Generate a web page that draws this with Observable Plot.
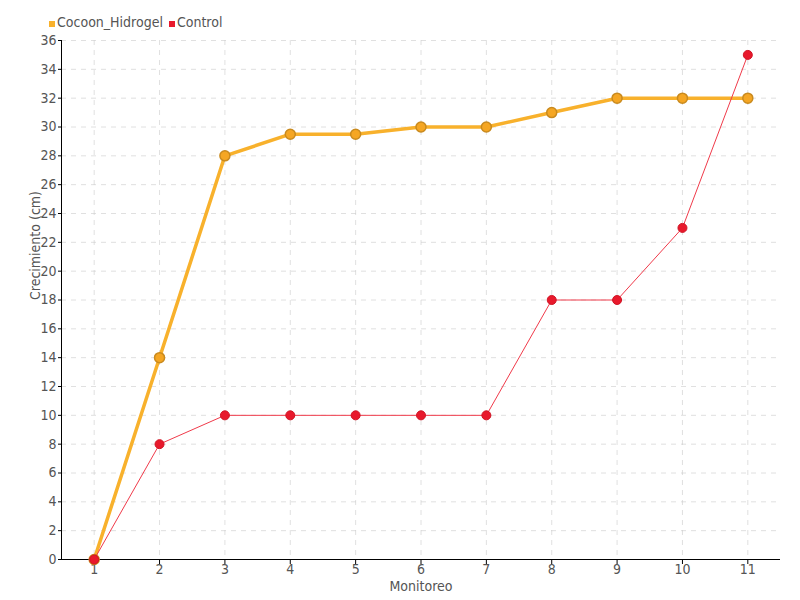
<!DOCTYPE html>
<html><head><meta charset="utf-8">
<script src="https://cdn.jsdelivr.net/npm/d3@7"></script>
<script src="https://cdn.jsdelivr.net/npm/@observablehq/plot@0.6"></script>
<style>
body{margin:0;background:#fff;font-family:"DejaVu Sans Condensed","Liberation Sans Narrow",sans-serif;}
#legend{height:32px;box-sizing:border-box;padding-left:49px;padding-top:12px;font-size:14px;color:#555;display:flex;gap:6px;align-items:center;}
#legend span.sw{display:inline-block;width:6px;height:6px;margin-right:2px;margin-top:4px;}
</style></head>
<body>
<div id="legend"></div>
<div id="chart"></div>
<script>
const monitoreo = [1,2,3,4,5,6,7,8,9,10,11];
const cocoon = [0,14,28,29.5,29.5,30,30,31,32,32,32];
const control = [0,8,10,10,10,10,10,18,18,23,35];
const yTicks = d3.range(0,37,2);
const series = ["Cocoon_Hidrogel","Control"];
const colors = ["#f8b12c","#e8192c"];

const leg = document.getElementById("legend");
series.forEach((s,i)=>{
  const d = document.createElement("div");
  d.innerHTML = `<span class="sw" style="background:${colors[i]}"></span>${s}`;
  leg.appendChild(d);
});

const dataC = monitoreo.map((m,i)=>({m, v:cocoon[i]}));
const dataR = monitoreo.map((m,i)=>({m, v:control[i]}));

const chart = Plot.plot({
  width:800, height:568,
  marginTop:8, marginBottom:41, marginLeft:61, marginRight:20,
  style:{fontFamily:'"DejaVu Sans Condensed","Liberation Sans Narrow",sans-serif', fontSize:"13px", color:"#555", background:"#fff"},
  x:{domain:[0.5,11.5], ticks:monitoreo, tickFormat:d=>d, label:null},
  y:{domain:[0,36], ticks:yTicks, label:null},
  marks:[
    Plot.gridX(monitoreo,{stroke:"#ccc", strokeOpacity:0.6, strokeDasharray:"5,5"}),
    Plot.gridY(yTicks,{stroke:"#ccc", strokeOpacity:0.6, strokeDasharray:"5,5"}),
    Plot.axisX({ticks:monitoreo, tickSize:5, tickPadding:0, fontSize:14, stroke:"#000", fill:"#555", label:null}),
    Plot.axisY({ticks:yTicks, tickSize:3, tickPadding:2, fontSize:14, stroke:"#000", fill:"#555", label:null}),
    Plot.ruleX([0.5],{stroke:"#000"}),
    Plot.ruleY([0],{stroke:"#000"}),
    Plot.line(dataC,{x:"m", y:"v", stroke:"#f8b12c", strokeWidth:3.5}),
    Plot.dot(dataC,{x:"m", y:"v", r:5, fill:"#f5a623", stroke:"#c98a1e", strokeWidth:1.5}),
    Plot.line(dataR,{x:"m", y:"v", stroke:"#f03a4a", strokeWidth:1}),
    Plot.dot(dataR,{x:"m", y:"v", r:4.5, fill:"#e8192c", stroke:"#d01525", strokeWidth:1}),
    Plot.text(["Monitoreo"],{frameAnchor:"bottom", dy:31, fontSize:14, fill:"#555"}),
    Plot.text(["Crecimiento (cm)"],{frameAnchor:"left", dx:-26, rotate:-90, fontSize:14, fill:"#555"})
  ]
});
document.getElementById("chart").appendChild(chart);
</script>
</body></html>
